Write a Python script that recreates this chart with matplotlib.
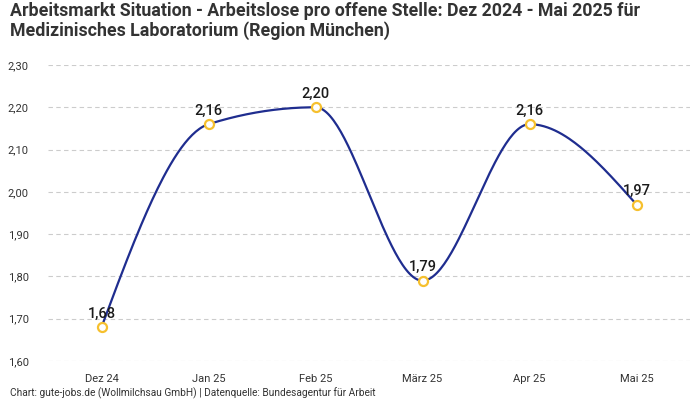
import numpy as np
import matplotlib
matplotlib.use("Agg")
import matplotlib.pyplot as plt

plt.rcParams['font.family'] = ['Roboto', 'DejaVu Sans']

months = ["Dez 24", "Jan 25", "Feb 25", "März 25", "Apr 25", "Mai 25"]
values = [1.68, 2.16, 2.20, 1.79, 2.16, 1.97]
yticks = [1.60, 1.70, 1.80, 1.90, 2.00, 2.10, 2.20, 2.30]

title = ("Arbeitsmarkt Situation - Arbeitslose pro offene Stelle: Dez 2024 - Mai 2025 für\n"
         "Medizinisches Laboratorium (Region München)")
footer = "Chart: gute-jobs.de (Wollmilchsau GmbH) | Datenquelle: Bundesagentur für Arbeit"

LINE = "#1f2d8f"
MARK = "#f6c02e"


def monotone_curve(x, y, n=60):
    x = np.asarray(x, float)
    y = np.asarray(y, float)
    h = np.diff(x)
    s = np.diff(y) / h
    m = np.zeros_like(y)
    for i in range(1, len(y) - 1):
        s0, s1 = s[i - 1], s[i]
        p = (s0 * h[i] + s1 * h[i - 1]) / (h[i - 1] + h[i])
        m[i] = (np.sign(s0) + np.sign(s1)) * min(abs(s0), abs(s1), 0.5 * abs(p))
    m[0] = (3 * s[0] - m[1]) / 2
    m[-1] = (3 * s[-1] - m[-2]) / 2
    xs, ys = [], []
    for i in range(len(x) - 1):
        t = np.linspace(0, 1, n)
        h00 = 2 * t**3 - 3 * t**2 + 1
        h10 = t**3 - 2 * t**2 + t
        h01 = -2 * t**3 + 3 * t**2
        h11 = t**3 - t**2
        xs.append(x[i] + t * h[i])
        ys.append(h00 * y[i] + h10 * h[i] * m[i] + h01 * y[i + 1] + h11 * h[i] * m[i + 1])
    return np.concatenate(xs), np.concatenate(ys)


fig = plt.figure(figsize=(7, 4), dpi=100)
ax = fig.add_axes([48 / 700, 1 - 361 / 400, (690 - 48) / 700, (361 - 65) / 400])

xi = np.arange(len(months))
cx, cy = monotone_curve(xi, values)
ax.plot(cx, cy, color=LINE, lw=1.6, zorder=2)
ax.plot(xi, values, ls="none", marker="o", ms=6.5, mfc="white", mec=MARK, mew=1.6, zorder=3)

for x, v in zip(xi, values):
    ax.annotate(f"{v:.2f}".replace(".", ","), (x, v), xytext=(0, 4.5), textcoords="offset points",
                ha="center", va="bottom", fontsize=10.5, fontweight="medium", color="#1a1a1a", zorder=4)

ax.set_xlim(-0.5, 5.5)
ax.set_ylim(1.60, 2.30)
ax.set_yticks(yticks)
ax.set_yticklabels([f"{t:.2f}".replace(".", ",") for t in yticks])
ax.set_xticks(xi)
ax.set_xticklabels(months)
ax.tick_params(axis="both", length=0, labelsize=8, labelcolor="#333333")
ax.tick_params(axis="y", pad=14)
ax.tick_params(axis="x", pad=9)
for sp in ax.spines.values():
    sp.set_visible(False)
ax.grid(axis="y", color="#cccccc", ls=(0, (4, 3)), lw=0.8)
ax.set_axisbelow(True)

fig.text(10 / 700, 1 - 2 / 400, title, ha="left", va="top", fontsize=12.8, fontweight="bold",
         color="#333333", linespacing=1.1)
fig.text(10 / 700, 1 - 393 / 400, footer, ha="left", va="center", fontsize=7.3, color="#333333")

fig.savefig("out.png", dpi=100)
